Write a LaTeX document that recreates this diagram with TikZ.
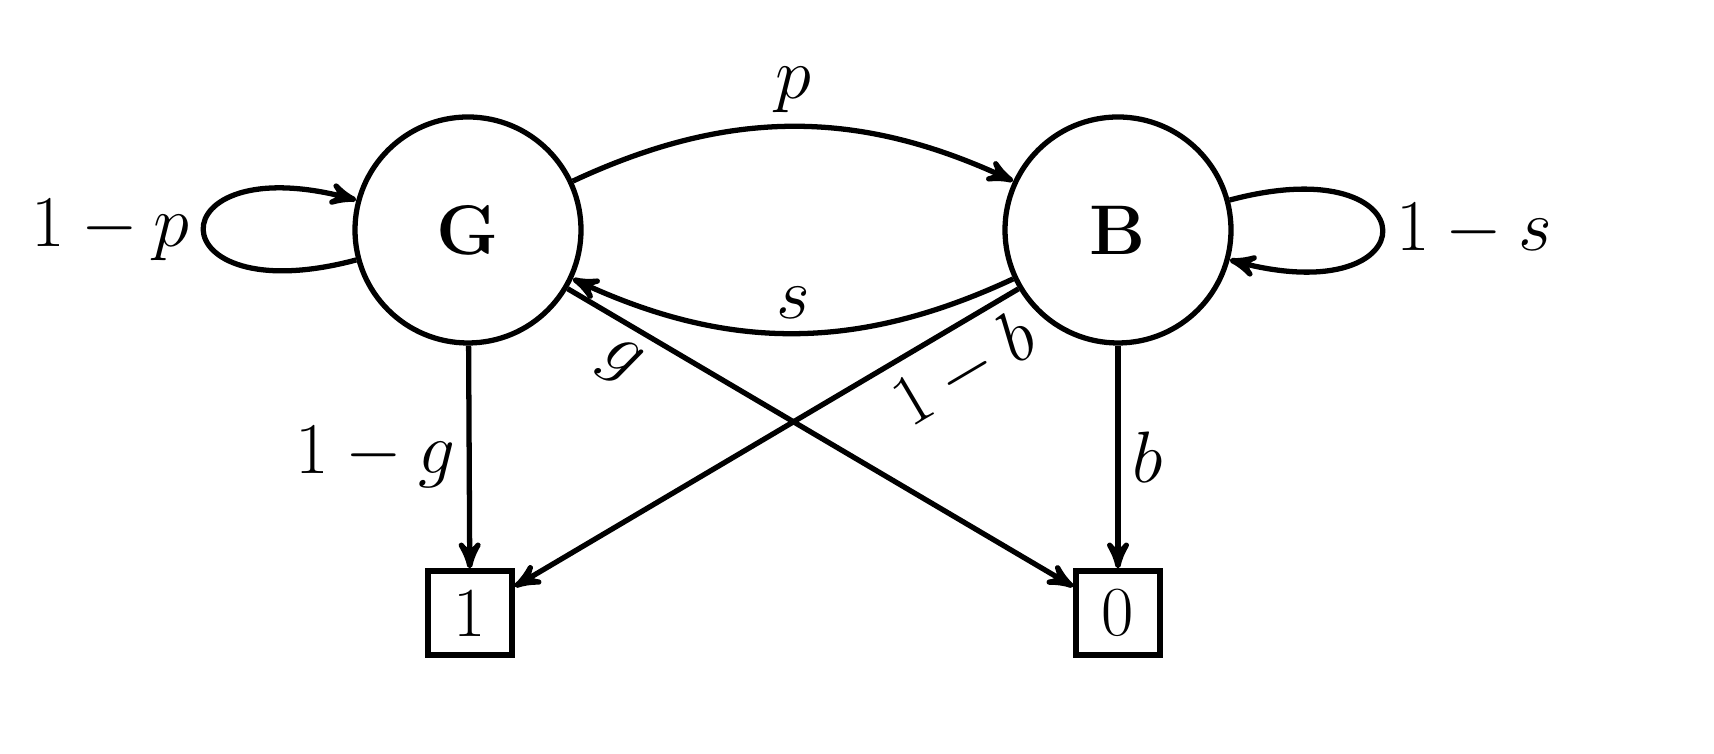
\documentclass[tikz,border=0pt]{standalone}
\usepackage{amsmath}
\usetikzlibrary{arrows}
\tikzset{
  state/.style = {circle, draw=black, line width=1.5pt, minimum size=2.26cm,
    inner sep=0pt, font=\fontsize{20}{24}\selectfont\bfseries},
  sink/.style = {rectangle, draw=black, line width=1.5pt, minimum size=0.84cm,
    inner sep=0pt, font=\fontsize{20}{24}\selectfont},
  lab/.style = {font=\fontsize{20}{24}\selectfont}
}
\begin{document}
\begin{tikzpicture}[->,>=stealth',line width=1.5pt]
  \node [state] (G) at (4.68,5.24) {G};
  \node [state] (B) at (11.18,5.24) {B};
  \node [sink] (one) at (4.70,1.41) {1};
  \node [sink] (zero) at (11.18,1.41) {0};
  % transitions between states
  \draw (G) to[bend left=25] node[lab,above] {$p$} (B);
  \draw (B) to[bend left=25] node[lab,above] {$s$} (G);
  \draw (G) to[out=195,in=165,looseness=9] node[lab,left] {$1-p$} (G);
  \draw (B) to[out=15,in=-15,looseness=9] node[lab,right] {$1-s$} (B);
  % emissions
  \draw (G) -- node[lab,left,pos=0.5] {$1-g$} (one);
  \draw (G) -- node[lab,below,sloped,pos=0.14] {$g$} (zero);
  \draw (B) -- node[lab,below,sloped,pos=0.15] {$1-b$} (one);
  \draw (B) -- node[lab,right,pos=0.5] {$b$} (zero);
  \pgfresetboundingbox
  \path[use as bounding box] (0,0) rectangle (17.14,7.54);
\end{tikzpicture}
\end{document}
